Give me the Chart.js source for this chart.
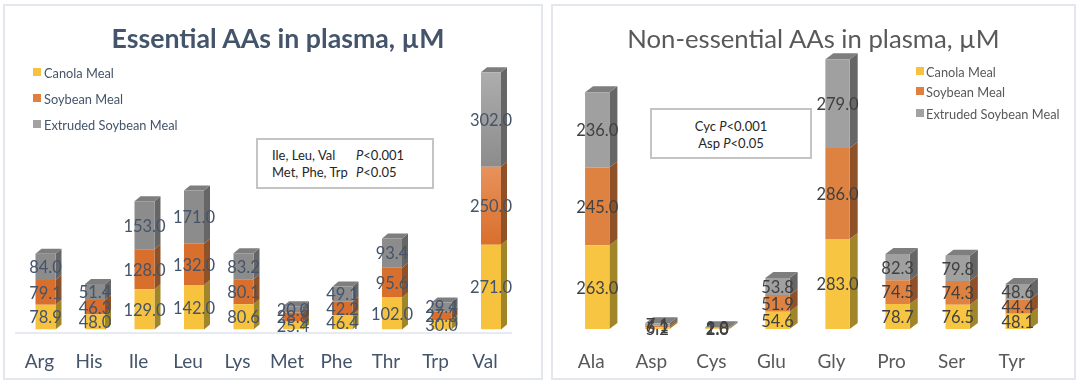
<!DOCTYPE html>
<html>
<head>
<meta charset="utf-8">
<script src="https://cdn.jsdelivr.net/npm/chart.js@4"></script>
<style>
  html, body { margin: 0; padding: 0; background: #fff; }
  body { width: 1080px; height: 387px; position: relative; overflow: hidden; font-family: Lato, sans-serif; }
  .panel { position: absolute; box-sizing: border-box; border: 2px solid #e4e7ee; top: 4px; height: 376px; }
  .chart { position: absolute; top: 0; }
  .title { position: absolute; top: 22px; text-align: center; white-space: nowrap; line-height: 32px; }
  .legend { position: absolute; font-size: 12.8px; white-space: nowrap; }
  .legend span { position: absolute; white-space: nowrap; }
  .legend i { position: absolute; width: 8px; height: 8px; }
  .note { position: absolute; box-sizing: border-box; border: 2px solid #c4c4c4; background: #fff; font-size: 13px; color: #262626; line-height: 17px; white-space: pre; }
  .note b { display: inline-block; width: 84px; font-weight: normal; }
</style>
</head>
<body>
<div class="panel" style="left:3px;width:540px"></div>
<div class="panel" style="left:551px;width:525px"></div>
<div class="chart" style="left:0;width:556px;height:387px"><canvas id="essentialChart" width="556" height="387"></canvas></div>
<div class="chart" style="left:544px;width:540px;height:387px"><canvas id="nonEssentialChart" width="540" height="387"></canvas></div>
<div class="title" style="left:0;width:556px;font-size:26.7px;font-weight:bold;color:#44546a">Essential AAs in plasma, µM</div>
<div class="title" style="left:551px;width:525px;font-size:25.7px;color:#595959">Non-essential AAs in plasma, µM</div>
<div class="legend" id="legendLeft" style="left:33px;top:65px"></div>
<div class="legend" id="legendRight" style="left:916px;top:64px"></div>
<div class="note" style="left:256px;top:138px;width:178px;height:51px;padding:7px 0 0 14px"><b>Ile, Leu, Val</b><em>P</em>&lt;0.001
<b>Met, Phe, Trp</b><em>P</em>&lt;0.05</div>
<div class="note" style="left:650px;top:108px;width:162px;height:51px;padding:8px 0 0 0;text-align:center">Cyc <em>P</em>&lt;0.001
Asp <em>P</em>&lt;0.05</div>
<script>
const seriesNames = ['Canola Meal', 'Soybean Meal', 'Extruded Soybean Meal'];

// Essential AAs
const essentialLabels = ['Arg', 'His', 'Ile', 'Leu', 'Lys', 'Met', 'Phe', 'Thr', 'Trp', 'Val'];
const essentialCanola = [78.9, 48.0, 129.0, 142.0, 80.6, 25.4, 46.4, 102.0, 30.0, 271.0];
const essentialSoybean = [79.1, 46.3, 128.0, 132.0, 80.1, 28.8, 42.2, 95.6, 27.3, 250.0];
const essentialExtruded = [84.0, 51.4, 153.0, 171.0, 83.2, 20.0, 49.1, 93.4, 29.4, 302.0];

// Non-essential AAs
const nonEssentialLabels = ['Ala', 'Asp', 'Cys', 'Glu', 'Gly', 'Pro', 'Ser', 'Tyr'];
const nonEssentialCanola = [263.0, 5.2, 2.0, 54.6, 283.0, 78.7, 76.5, 48.1];
const nonEssentialSoybean = [245.0, 6.1, 1.0, 51.9, 286.0, 74.5, 74.3, 44.4];
const nonEssentialExtruded = [236.0, 7.1, 2.8, 53.8, 279.0, 82.3, 79.8, 48.6];

const swatchColors = ['#f7c33f', '#e27f3f', '#a2a2a2'];
const flatColors = ['#f7c542', '#dd8240', '#a0a0a0'];
const gradientStops = [null, ['#e8925c', '#d96f2c'], ['#adadad', '#8c8c8c']];
const sideColors = ['#a08628', '#8f5228', '#666666'];
const topColor = '#7e7e7e';

// fake 3D: side and top faces drawn off the real bar elements, labels on top
const box3d = {
  id: 'box3d',
  beforeDatasetsDraw(chart, args, opts) {
    const c = chart.ctx;
    const dx = opts.dx, dy = opts.dy;
    chart.data.datasets.forEach((ds, i) => {
      chart.getDatasetMeta(i).data.forEach(bar => {
        const l = bar.x - bar.width / 2, r = bar.x + bar.width / 2;
        c.fillStyle = sideColors[i];
        c.beginPath();
        c.moveTo(r, bar.base);
        c.lineTo(r + dx, bar.base - dy);
        c.lineTo(r + dx, bar.y - dy);
        c.lineTo(r, bar.y);
        c.closePath();
        c.fill();
        if (i === 2) {
          c.fillStyle = topColor;
          c.beginPath();
          c.moveTo(l, bar.y);
          c.lineTo(l + dx, bar.y - dy);
          c.lineTo(r + dx, bar.y - dy);
          c.lineTo(r, bar.y);
          c.closePath();
          c.fill();
        }
        // left chart has shaded faces, needs the final bar geometry
        if (opts.shaded && gradientStops[i]) {
          const g = c.createLinearGradient(0, bar.y, 0, bar.base);
          g.addColorStop(0, gradientStops[i][0]);
          g.addColorStop(1, gradientStops[i][1]);
          bar.options.backgroundColor = g;
        }
      });
    });
  },
  afterDatasetsDraw(chart, args, opts) {
    const c = chart.ctx;
    c.font = opts.labelFont;
    c.fillStyle = opts.labelColor;
    c.textAlign = 'center';
    c.textBaseline = 'middle';
    chart.data.datasets.forEach((ds, i) => {
      chart.getDatasetMeta(i).data.forEach((bar, j) => {
        c.fillText(ds.data[j].toFixed(1), bar.x, (bar.y + bar.base) / 2 + 1);
      });
    });
    if (opts.axisColor) {
      const b = chart.scales.y.getPixelForValue(0) + 3.5;
      c.strokeStyle = opts.axisColor;
      c.lineWidth = 1.5;
      c.beginPath();
      c.moveTo(15, b);
      c.lineTo(512, b);
      c.stroke();
    }
  }
};

function makeChart(id, labels, series, cfg) {
  new Chart(document.getElementById(id).getContext('2d'), {
    type: 'bar',
    plugins: [box3d],
    data: {
      labels: labels,
      datasets: series.map((d, i) => ({
        label: seriesNames[i],
        data: d,
        backgroundColor: cfg.shaded && i === 0 ? swatchColors[0] : flatColors[i],
        borderWidth: 0,
        categoryPercentage: 1,
        barPercentage: cfg.barPct
      }))
    },
    options: {
      responsive: false,
      animation: false,
      layout: { padding: cfg.padding },
      plugins: {
        legend: { display: false },
        tooltip: { enabled: false },
        box3d: {
          dx: cfg.dx,
          dy: cfg.dy,
          shaded: cfg.shaded,
          labelFont: '16.5px Lato',
          labelColor: cfg.labelColor,
          axisColor: cfg.axisColor
        }
      },
      scales: {
        x: {
          stacked: true,
          grid: { display: false },
          border: { display: false },
          afterFit: s => { s.height = cfg.axisHeight; },
          ticks: { color: cfg.textColor, font: { family: 'Lato', size: 19 }, padding: 13, labelOffset: -6, maxRotation: 0 }
        },
        y: { stacked: true, display: false, min: 0, max: cfg.yMax }
      }
    }
  });
}

function fillLegend(id, gaps, color) {
  const box = document.getElementById(id);
  seriesNames.forEach((name, i) => {
    box.innerHTML += '<i style="left:0;top:' + (gaps[i] + 3) + 'px;background:' + swatchColors[i] + '"></i>' +
      '<span style="left:' + (id === 'legendLeft' ? 11 : 10) + 'px;top:' + gaps[i] + 'px;color:' + color + '">' + name + '</span>';
  });
}

fillLegend('legendLeft', [0, 26, 52], '#44546a');
fillLegend('legendRight', [0, 20, 42], '#595959');

makeChart('essentialChart', essentialLabels, [essentialCanola, essentialSoybean, essentialExtruded], {
  textColor: '#44546a',
  labelColor: '#44546a',
  axisColor: '#dfe3ec',
  barPct: 0.404,
  dx: 6,
  dy: 5,
  padding: { left: 20.75, right: 40.25, top: 51, bottom: 0 },
  axisHeight: 57.5,
  yMax: 891,
  shaded: true
});

makeChart('nonEssentialChart', nonEssentialLabels, [nonEssentialCanola, nonEssentialSoybean, nonEssentialExtruded], {
  textColor: '#595959',
  labelColor: '#404040',
  axisColor: null,
  barPct: 0.405,
  dx: 8,
  dy: 6,
  padding: { left: 23.2, right: 36.2, top: 51, bottom: 0 },
  axisHeight: 58,
  yMax: 874,
  shaded: false
});
</script>
</body>
</html>
